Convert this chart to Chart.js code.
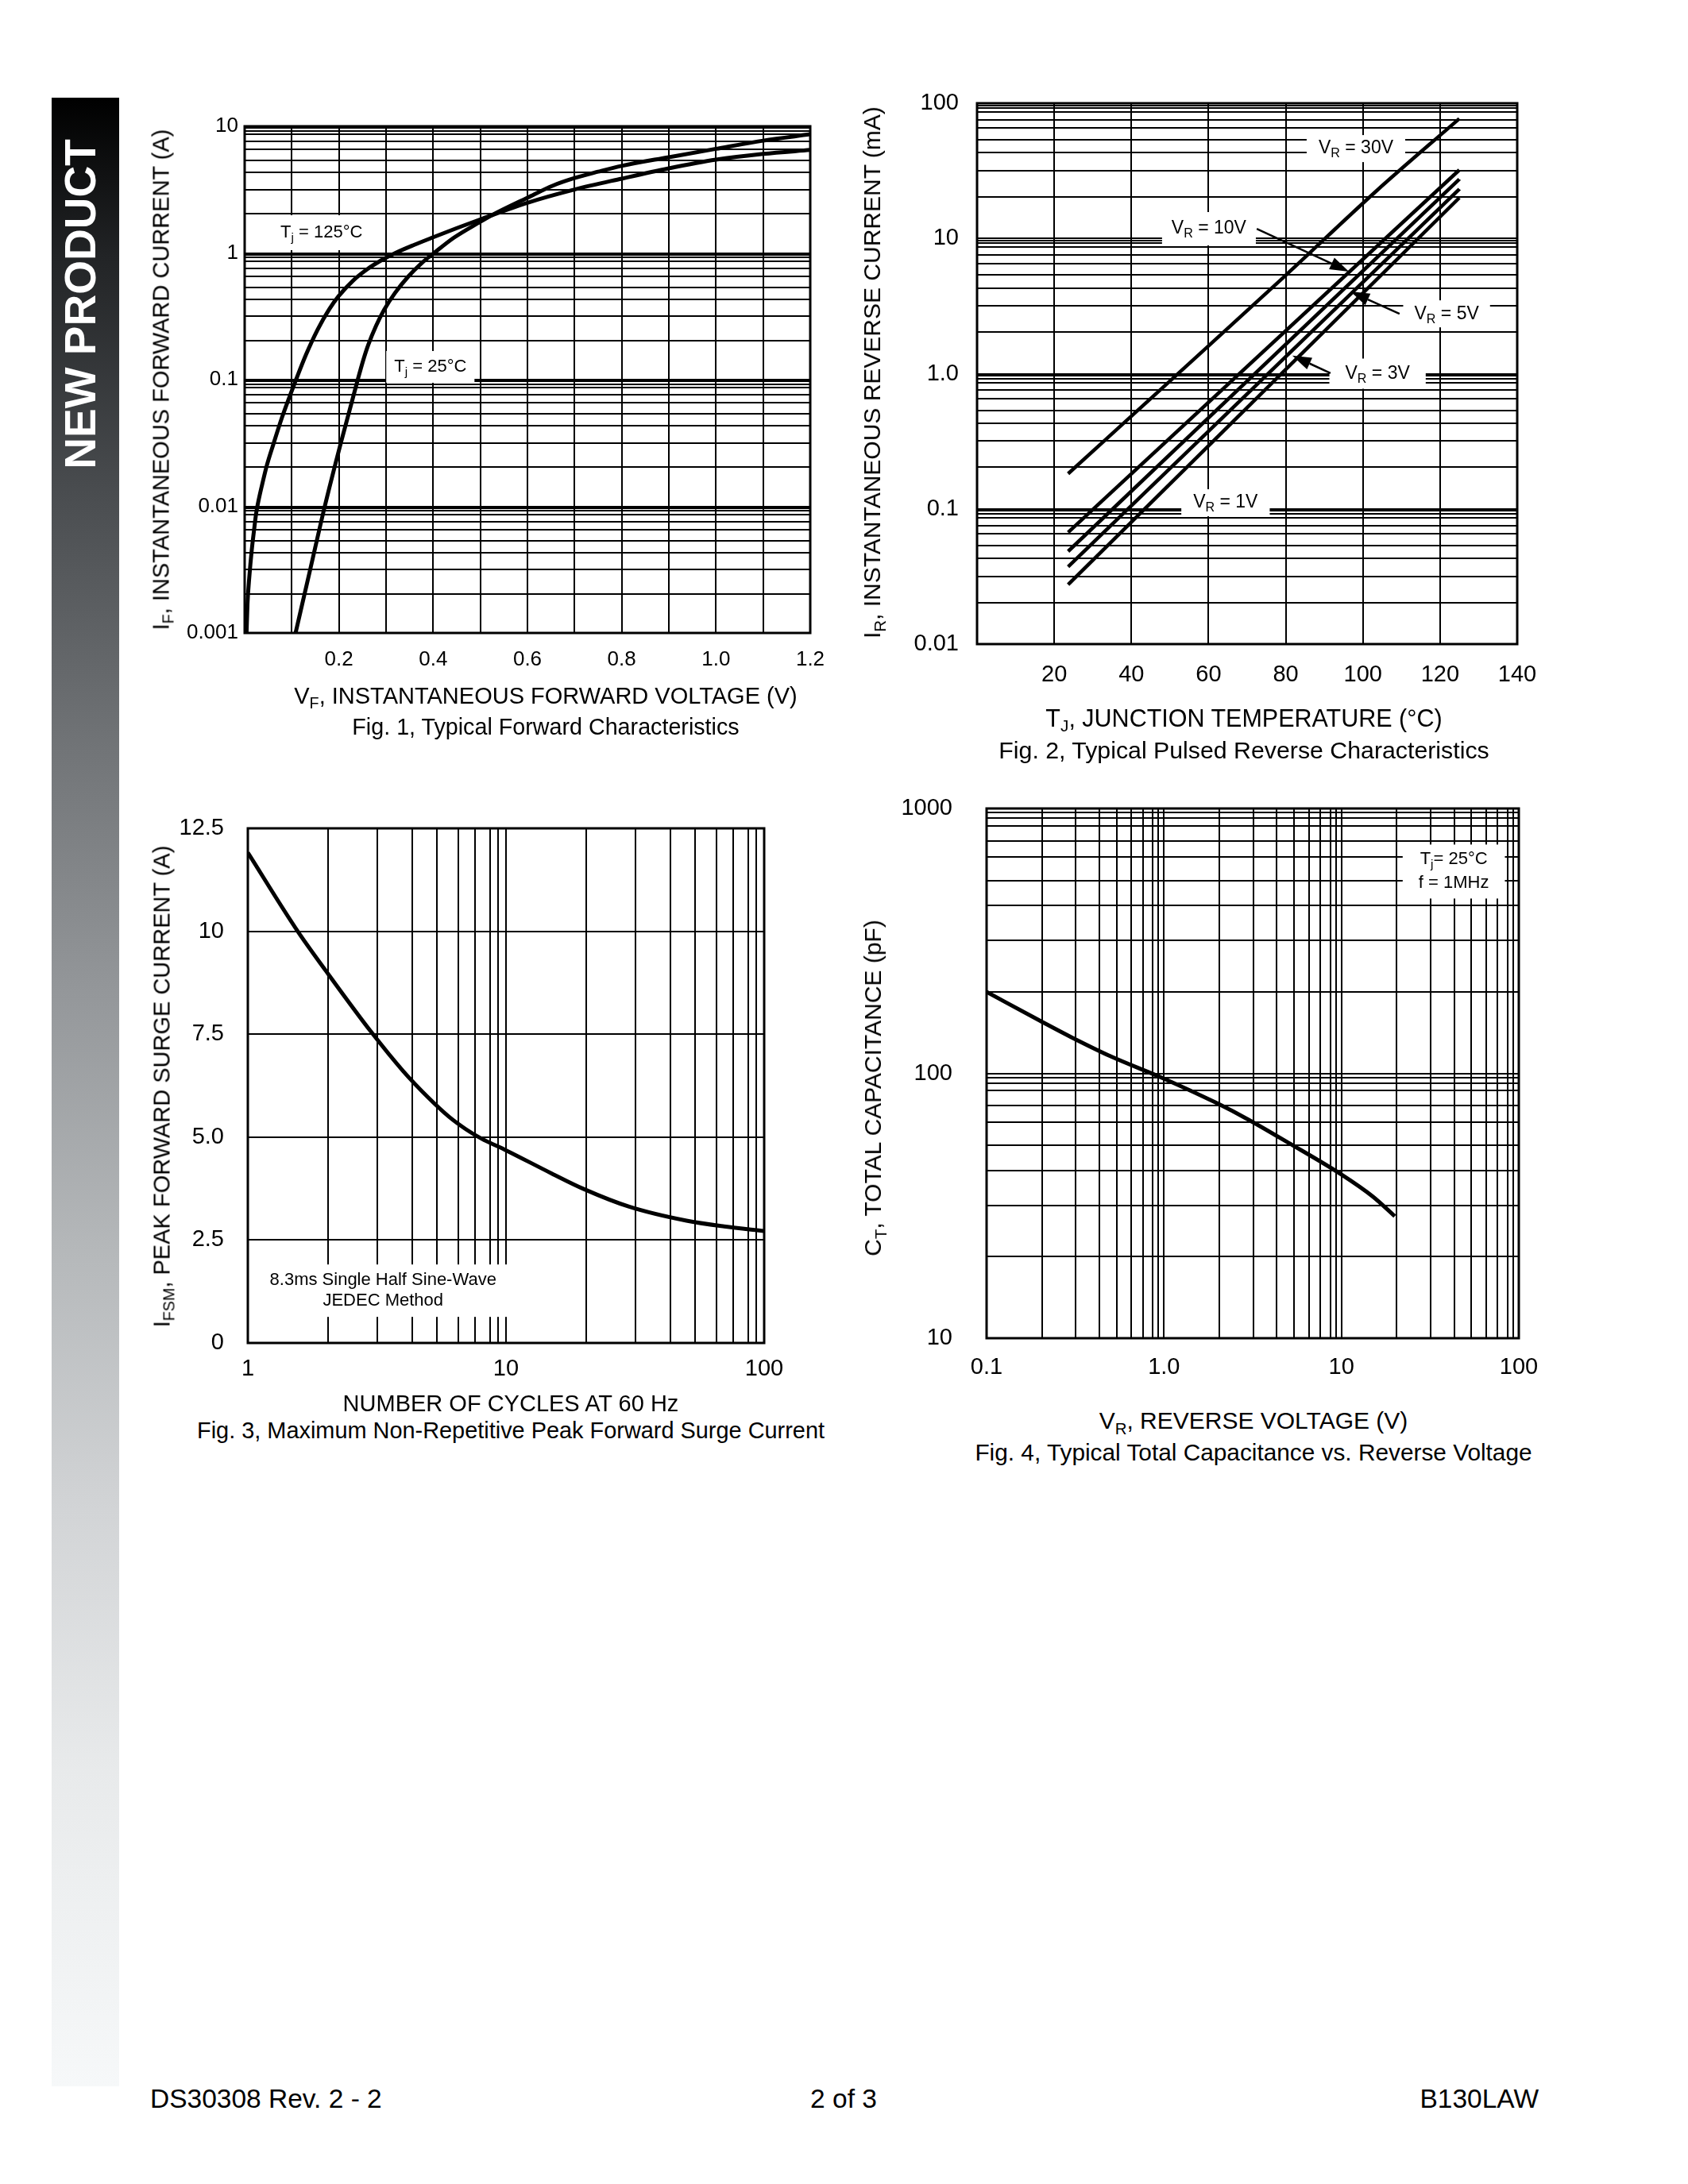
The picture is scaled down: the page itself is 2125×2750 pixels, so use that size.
<!DOCTYPE html>
<html>
<head>
<meta charset="utf-8">
<title>B130LAW - Typical Characteristics</title>
<script src="https://cdn.jsdelivr.net/npm/chart.js@4.4.1/dist/chart.umd.min.js"></script>
<style>
  html, body { margin:0; padding:0; background:#fff; }
  body { position:relative; width:2125px; height:2750px; overflow:hidden;
         font-family: Arial, "Liberation Sans", Helvetica, sans-serif; color:#000; }
  canvas { position:absolute; }
  .t { position:absolute; white-space:nowrap; line-height:1; transform:translate(-50%,-50%); }
  .r { transform:translate(-50%,-50%) rotate(-90deg); }
  .t sub { font-size:0.68em; line-height:0; vertical-align:-0.32em; }
  #bar { position:absolute; left:65px; top:123px; width:85px; height:2504px;
         background: linear-gradient(to bottom, #000 0%, #222426 8%, #4a4d50 20%, #6f7275 32%,
                     #94979a 45%, #b5b8ba 58%, #d2d4d6 71%, #e8eaeb 84%, #f6f8f9 100%); }
  #np { color:#fff; font-weight:bold; font-size:55px; }
  .foot { position:absolute; font-size:33.5px; line-height:1; top:2626px; white-space:nowrap; }
</style>
</head>
<body>
<div id="bar"></div>
<div class="t r" id="np" style="left:101px; top:383px;">NEW PRODUCT</div>

<canvas id="c1"></canvas>
<canvas id="c2"></canvas>
<canvas id="c3"></canvas>
<canvas id="c4"></canvas>

<!-- Fig 1 texts -->
<div class="t r" style="left:203px; top:478px; font-size:29px;">I<sub>F</sub>, INSTANTANEOUS FORWARD CURRENT (A)</div>
<div class="t" style="left:687px; top:876px; font-size:29px;">V<sub>F</sub>, INSTANTANEOUS FORWARD VOLTAGE (V)</div>
<div class="t" style="left:687px; top:915px; font-size:28.7px;">Fig. 1, Typical Forward Characteristics</div>

<!-- Fig 2 texts -->
<div class="t r" style="left:1098px; top:469px; font-size:30px;">I<sub>R</sub>, INSTANTANEOUS REVERSE CURRENT (mA)</div>
<div class="t" style="left:1566px; top:904px; font-size:30.5px;">T<sub>J</sub>, JUNCTION TEMPERATURE (°C)</div>
<div class="t" style="left:1566px; top:945px; font-size:30.3px;">Fig. 2, Typical Pulsed Reverse Characteristics</div>

<!-- Fig 3 texts -->
<div class="t r" style="left:204px; top:1368px; font-size:29px;">I<sub>FSM</sub>, PEAK FORWARD SURGE CURRENT (A)</div>
<div class="t" style="left:643px; top:1767px; font-size:29px;">NUMBER OF CYCLES AT 60 Hz</div>
<div class="t" style="left:643px; top:1801px; font-size:28.9px;">Fig. 3, Maximum Non-Repetitive Peak Forward Surge Current</div>

<!-- Fig 4 texts -->
<div class="t r" style="left:1099px; top:1370px; font-size:30px;">C<sub>T</sub>, TOTAL CAPACITANCE (pF)</div>
<div class="t" style="left:1578px; top:1789px; font-size:30px;">V<sub>R</sub>, REVERSE VOLTAGE (V)</div>
<div class="t" style="left:1578px; top:1829px; font-size:29.8px;">Fig. 4, Typical Total Capacitance vs. Reverse Voltage</div>

<!-- Footer -->
<div class="foot" style="left:189px;">DS30308 Rev. 2 - 2</div>
<div class="foot" style="left:1062px; transform:translateX(-50%);">2 of 3</div>
<div class="foot" style="right:188px;">B130LAW</div>

<script>
const FONT = 'Arial, "Liberation Sans", Helvetica, sans-serif';
Chart.defaults.font.family = FONT;
Chart.defaults.color = '#000';

// ---------------- grid / tick definitions ----------------
const logGridY = [1, 2.03, 3.17, 4.3, 5.35, 6.55, 7.55, 8.6, 9.2, 9.65];
const logGridX = [1, 2.05, 3.18, 4.33, 5.4, 6.55, 7.6, 8.65, 9.3];

const fig1XLabelVals = [0.2, 0.4, 0.6, 0.8, 1.0, 1.2];
const fig1XLabels = ['0.2', '0.4', '0.6', '0.8', '1.0', '1.2'];
const fig1YLabels = ['0.001', '0.01', '0.1', '1', '10'];

const fig2XLabelVals = [20, 40, 60, 80, 100, 120, 140];
const fig2XLabels = ['20', '40', '60', '80', '100', '120', '140'];
const fig2YLabels = ['0.01', '0.1', '1.0', '10', '100'];

const fig3XLabels = ['1', '10', '100'];
const fig3YLabelVals = [0, 2.5, 5, 7.5, 10, 12.5];
const fig3YLabels = ['0', '2.5', '5.0', '7.5', '10', '12.5'];

const fig4XLabels = ['0.1', '1.0', '10', '100'];
const fig4YLabels = ['10', '100', '1000'];

// ---------------- Fig. 1 data: forward characteristics ----------------
const fig1Vf125 = [0.004, 0.006, 0.010, 0.015, 0.021, 0.024, 0.027, 0.032, 0.037, 0.047, 0.061, 0.079,
                   0.095, 0.109, 0.130, 0.155, 0.180, 0.200, 0.230, 0.260, 0.290, 0.320, 0.360, 0.400,
                   0.450, 0.500, 0.600, 0.700, 0.800, 0.900, 1.000, 1.100, 1.200];
const fig1If125 = [0.001, 0.0017, 0.0028, 0.0045, 0.0070, 0.0086, 0.010, 0.0123, 0.0148, 0.021, 0.031, 0.050,
                   0.073, 0.100, 0.157, 0.249, 0.362, 0.459, 0.605, 0.744, 0.875, 1.00, 1.16, 1.33,
                   1.57, 1.84, 2.49, 3.17, 3.86, 4.65, 5.45, 6.05, 6.50];
const fig1Vf25 = [0.108, 0.139, 0.170, 0.204, 0.240, 0.251, 0.262, 0.279, 0.296, 0.319, 0.347, 0.375,
                  0.402, 0.444, 0.495, 0.526, 0.600, 0.654, 0.700, 0.750, 0.800, 0.900, 1.000, 1.100, 1.200];
const fig1If25 = [0.001, 0.00316, 0.010, 0.0316, 0.100, 0.140, 0.187, 0.267, 0.356, 0.483, 0.651, 0.828,
                  1.00, 1.32, 1.72, 2.0, 2.73, 3.40, 3.90, 4.38, 4.87, 5.70, 6.64, 7.70, 8.65];

// ---------------- Fig. 2 data: reverse current vs Tj ----------------
const fig2T30 = [23.6, 51.5, 79.9, 103.6, 125];
const fig2I30 = [0.182, 0.966, 5.31, 22.6, 77];
const fig2T10 = [23.6, 125];
const fig2I10 = [0.067, 32.1];
const fig2T5 = [23.6, 125];
const fig2I5 = [0.0485, 27.4];
const fig2T3 = [23.6, 125];
const fig2I3 = [0.0373, 23.2];
const fig2T1 = [23.6, 125];
const fig2I1 = [0.0275, 20.0];

// ---------------- Fig. 3 data: surge current ----------------
const fig3Cycles = [1, 1.56, 2, 3, 4, 5, 6, 7, 8, 10, 15, 20, 30, 50, 70, 100];
const fig3Ifsm = [11.91, 10.0, 9.05, 7.56, 6.6, 5.96, 5.5, 5.19, 4.97, 4.68, 4.12, 3.74, 3.31, 2.97, 2.83, 2.72];

// ---------------- Fig. 4 data: capacitance ----------------
const fig4Vr = [0.1, 0.2, 0.3, 0.5, 1, 2, 3, 5, 10, 15, 20];
const fig4Ct = [203, 158, 137, 116, 95.5, 77, 66.8, 54.8, 41.5, 34.3, 28.9];

// ---------------- helpers ----------------
function logTicks(min, max, mults, labels) {
  const out = []; let li = 0;
  const e0 = Math.round(Math.log10(min)), e1 = Math.round(Math.log10(max));
  for (let e = e0; e <= e1; e++) {
    const base = Math.pow(10, e);
    for (const m of mults) {
      const v = m * base;
      if (v > max * 1.0001) break;
      out.push({ value: v, lbl: m === 1 ? labels[li++] : '' });
    }
  }
  return out;
}
function linTicks(min, max, step, labelVals, labels) {
  const out = []; const n = Math.round((max - min) / step);
  for (let i = 0; i <= n; i++) {
    const v = min + i * step;
    const k = labelVals.findIndex(t => Math.abs(t - v) < step * 1e-3);
    out.push({ value: v, lbl: k >= 0 ? labels[k] : '' });
  }
  return out;
}
function pts(xs, ys) { return xs.map((x, i) => ({ x, y: ys[i] })); }
function series(xs, ys, w) {
  return { data: pts(xs, ys), showLine: true, borderColor: '#000', backgroundColor: '#000',
           borderWidth: w, pointRadius: 0, pointHoverRadius: 0, fill: false,
           cubicInterpolationMode: 'monotone' };
}
function axis(type, min, max, tickArr, size, pad) {
  return {
    type, min, max,
    afterBuildTicks: s => { s.ticks = tickArr.map(t => ({ value: t.value, lbl: t.lbl })); },
    grid: { color: '#000', lineWidth: 2, drawTicks: false, drawOnChartArea: true },
    border: { display: false },
    ticks: { autoSkip: false, maxRotation: 0, minRotation: 0, padding: pad, color: '#000',
             font: { size, family: FONT },
             callback: (v, i, arr) => (arr[i] && typeof arr[i].lbl === 'string') ? arr[i].lbl : '' }
  };
}

// rich text with single-character subscripts written as _x
function parseRich(s) {
  const segs = []; let buf = '';
  for (let i = 0; i < s.length; i++) {
    if (s[i] === '_' && i + 1 < s.length) {
      if (buf) { segs.push({ t: buf }); buf = ''; }
      segs.push({ t: s[i + 1], sub: true }); i++;
    } else buf += s[i];
  }
  if (buf) segs.push({ t: buf });
  return segs;
}
function richWidth(ctx, segs, size) {
  let w = 0;
  for (const s of segs) { ctx.font = (s.sub ? size * 0.7 : size) + 'px ' + FONT; w += ctx.measureText(s.t).width; }
  return w;
}
function drawRich(ctx, segs, x, y, size) {
  let cx = x;
  for (const s of segs) {
    const fs = s.sub ? size * 0.7 : size;
    ctx.font = fs + 'px ' + FONT;
    ctx.fillText(s.t, cx, y + (s.sub ? size * 0.3 : 0));
    cx += ctx.measureText(s.t).width;
  }
}

// ---------------- annotations (positions in data units) ----------------
const annots = {
  c1: { size: 22, boxes: [
          { x: 0.163, y: 1.445, lines: ['T_j = 125°C'], padX: 13, padY: 9, lineH: 26 },
          { x: 0.394, y: 0.126, lines: ['T_j = 25°C'], padX: 10, padY: 7, lineH: 26 } ],
        arrows: [] },
  c2: { size: 23, boxes: [
          { x: 98.2, y: 46.2, lines: ['V_R = 30V'], padX: 15, padY: 3, lineH: 28 },
          { x: 60.1, y: 11.8, lines: ['V_R = 10V'], padX: 12, padY: 7, lineH: 28 },
          { x: 121.7, y: 2.77, lines: ['V_R = 5V'], padX: 14, padY: 3, lineH: 28 },
          { x: 103.8, y: 1.0, lines: ['V_R = 3V'], padX: 20, padY: 5, lineH: 28 },
          { x: 64.4, y: 0.111, lines: ['V_R = 1V'], padX: 15, padY: 3, lineH: 28 } ],
        arrows: [
          { x1: 72.5, y1: 11.8, x2: 96.4, y2: 5.69 },
          { x1: 109.5, y1: 2.77, x2: 96.8, y2: 4.05 },
          { x1: 91.6, y1: 1.01, x2: 81.7, y2: 1.36 } ] },
  c3: { size: 22, boxes: [
          { x: 3.34, y: 1.27, lines: ['8.3ms Single Half Sine-Wave', 'JEDEC Method'], padX: 17, padY: 7, lineH: 26 } ],
        arrows: [] },
  c4: { size: 22, boxes: [
          { x: 43, y: 578, lines: ['T_j= 25°C', 'f = 1MHz'], padX: 20, padY: 4, lineH: 30 } ],
        arrows: [] }
};

const sheetPlugin = {
  id: 'sheet',
  beforeDatasetsDraw(chart) {
    const { ctx, chartArea: a } = chart;
    ctx.save();
    ctx.strokeStyle = '#000'; ctx.lineWidth = 3;
    ctx.strokeRect(a.left, a.top, a.right - a.left, a.bottom - a.top);
    const cfg = annots[chart.canvas.id];
    if (cfg) {
      const xs = chart.scales.x, ys = chart.scales.y;
      ctx.textBaseline = 'middle';
      for (const b of cfg.boxes) {
        const cx = xs.getPixelForValue(b.x), cy = ys.getPixelForValue(b.y);
        const lines = b.lines.map(parseRich);
        const widths = lines.map(l => richWidth(ctx, l, cfg.size));
        const w = Math.max(...widths) + 2 * b.padX;
        const h = lines.length * b.lineH + 2 * b.padY;
        ctx.fillStyle = '#fff';
        ctx.fillRect(cx - w / 2, cy - h / 2, w, h);
        ctx.fillStyle = '#000';
        lines.forEach((l, i) => {
          const ly = cy - h / 2 + b.padY + b.lineH * (i + 0.5);
          drawRich(ctx, l, cx - widths[i] / 2, ly, cfg.size);
        });
      }
    }
    ctx.restore();
  },
  afterDatasetsDraw(chart) {
    const cfg = annots[chart.canvas.id];
    if (!cfg || !cfg.arrows.length) return;
    const { ctx } = chart; const xs = chart.scales.x, ys = chart.scales.y;
    ctx.save();
    ctx.strokeStyle = '#000'; ctx.fillStyle = '#000'; ctx.lineWidth = 2.5;
    for (const ar of cfg.arrows) {
      const x1 = xs.getPixelForValue(ar.x1), y1 = ys.getPixelForValue(ar.y1);
      const x2 = xs.getPixelForValue(ar.x2), y2 = ys.getPixelForValue(ar.y2);
      const ang = Math.atan2(y2 - y1, x2 - x1), L = 24, HW = 8;
      const bx = x2 - L * Math.cos(ang), by = y2 - L * Math.sin(ang);
      ctx.beginPath(); ctx.moveTo(x1, y1); ctx.lineTo(bx, by); ctx.stroke();
      ctx.beginPath();
      ctx.moveTo(x2, y2);
      ctx.lineTo(bx + HW * Math.sin(ang), by - HW * Math.cos(ang));
      ctx.lineTo(bx - HW * Math.sin(ang), by + HW * Math.cos(ang));
      ctx.closePath(); ctx.fill();
    }
    ctx.restore();
  }
};
Chart.register(sheetPlugin);

function makeChart(id, area, xAxis, yAxis, datasets) {
  const P = { l: 160, r: 70, t: 80, b: 80 };
  const cv = document.getElementById(id);
  const w = area.right - area.left + P.l + P.r, h = area.bottom - area.top + P.t + P.b;
  cv.width = w; cv.height = h;
  cv.style.left = (area.left - P.l) + 'px'; cv.style.top = (area.top - P.t) + 'px';
  cv.style.width = w + 'px'; cv.style.height = h + 'px';
  xAxis.position = 'bottom'; yAxis.position = 'left';
  xAxis.afterFit = s => { s.height = P.b; };
  yAxis.afterFit = s => { s.width = P.l; };
  return new Chart(cv, {
    type: 'scatter',
    data: { datasets },
    options: {
      responsive: false, animation: false, devicePixelRatio: 1,
      layout: { padding: { left: 0, top: P.t, right: P.r, bottom: 0 } },
      plugins: { legend: { display: false }, tooltip: { enabled: false } },
      events: [],
      scales: { x: xAxis, y: yAxis }
    }
  });
}

// Fig. 1
makeChart('c1', { left: 308, top: 159, right: 1020, bottom: 797 },
  axis('linear', 0, 1.2, linTicks(0, 1.2, 0.1, fig1XLabelVals, fig1XLabels), 26, 18),
  axis('logarithmic', 0.001, 10, logTicks(0.001, 10, logGridY, fig1YLabels), 26, 8),
  [ series(fig1Vf125, fig1If125, 5), series(fig1Vf25, fig1If25, 5) ]);

// Fig. 2
makeChart('c2', { left: 1230, top: 130, right: 1910, bottom: 811 },
  axis('linear', 0, 140, linTicks(0, 140, 20, fig2XLabelVals, fig2XLabels), 29, 22),
  axis('logarithmic', 0.01, 100, logTicks(0.01, 100, logGridY, fig2YLabels), 29, 23),
  [ series(fig2T30, fig2I30, 4.5), series(fig2T10, fig2I10, 4.5), series(fig2T5, fig2I5, 4.5),
    series(fig2T3, fig2I3, 4.5), series(fig2T1, fig2I1, 4.5) ]);

// Fig. 3
makeChart('c3', { left: 312, top: 1043, right: 962, bottom: 1691 },
  axis('logarithmic', 1, 100, logTicks(1, 100, logGridX, fig3XLabels), 29, 16),
  axis('linear', 0, 12.5, linTicks(0, 12.5, 2.5, fig3YLabelVals, fig3YLabels), 29, 30),
  [ series(fig3Cycles, fig3Ifsm, 5) ]);

// Fig. 4
makeChart('c4', { left: 1242, top: 1018, right: 1912, bottom: 1685 },
  axis('logarithmic', 0.1, 100, logTicks(0.1, 100, logGridX, fig4XLabels), 29, 20),
  axis('logarithmic', 10, 1000, logTicks(10, 1000, logGridY, fig4YLabels), 29, 43),
  [ series(fig4Vr, fig4Ct, 5) ]);
</script>
</body>
</html>
